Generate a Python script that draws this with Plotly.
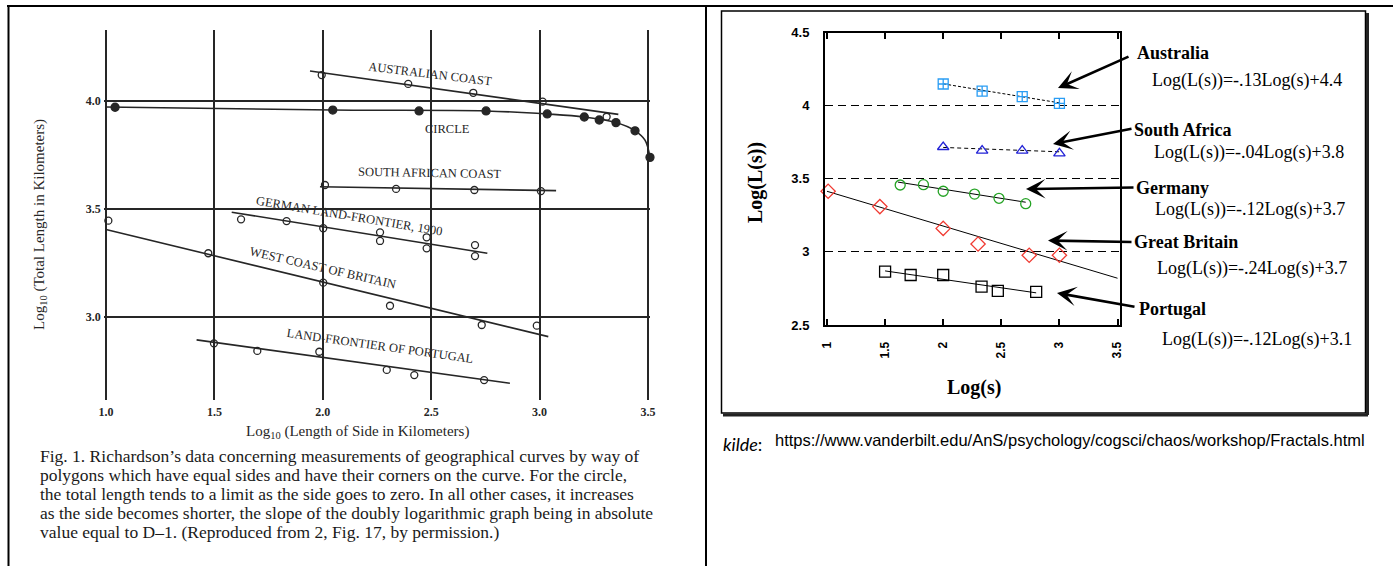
import plotly.graph_objects as go

W, H = 1393, 566


def fx(p):
    return p / W


def fy(p):
    return 1 - p / H


# ================= LEFT PANEL: Richardson's data (scanned figure) =================
rich_xticks = [1.0, 1.5, 2.0, 2.5, 3.0, 3.5]
rich_xtick_text = ["1.0", "1.5", "2.0", "2.5", "3.0", "3.5"]
rich_yticks = [3.0, 3.5, 4.0]
rich_ytick_text = ["3.0", "3.5", "4.0"]

aus_x = [1.995, 2.394, 2.694, 3.014, 3.309]
aus_y = [4.120, 4.079, 4.038, 3.997, 3.927]
aus_fit_x = [1.941, 3.363]
aus_fit_y = [4.139, 3.938]

circle_x = [1.042, 2.046, 2.444, 2.753, 3.035, 3.206, 3.275, 3.352, 3.440, 3.509]
circle_y = [3.971, 3.958, 3.954, 3.954, 3.940, 3.926, 3.912, 3.900, 3.862, 3.739]
circle_curve_x = [1.0, 2.046, 2.753, 3.035, 3.206, 3.352, 3.440, 3.486, 3.509]
circle_curve_y = [3.972, 3.958, 3.954, 3.940, 3.926, 3.900, 3.862, 3.819, 3.739]

sa_x = [2.010, 2.338, 2.699, 3.006]
sa_y = [3.611, 3.593, 3.588, 3.583]
sa_fit_x = [1.987, 3.076]
sa_fit_y = [3.603, 3.585]

ger_x = [1.623, 1.833, 2.002, 2.264, 2.264, 2.479, 2.479, 2.702, 2.702]
ger_y = [3.452, 3.444, 3.411, 3.392, 3.352, 3.369, 3.318, 3.333, 3.282]
ger_fit_x = [1.580, 2.759]
ger_fit_y = [3.485, 3.295]

brit_x = [1.011, 1.472, 2.002, 2.310, 2.733, 2.987]
brit_y = [3.446, 3.295, 3.159, 3.052, 2.963, 2.960]
brit_fit_x = [1.0, 3.040]
brit_fit_y = [3.405, 2.909]

por_x = [1.498, 1.698, 1.984, 2.295, 2.422, 2.744]
por_y = [2.878, 2.843, 2.839, 2.755, 2.731, 2.708]
por_fit_x = [1.418, 2.863]
por_fit_y = [2.894, 2.693]

rich_labels = ["AUSTRALIAN COAST", "CIRCLE", "SOUTH AFRICAN COAST",
               "GERMAN LAND-FRONTIER, 1900", "WEST COAST OF BRITAIN",
               "LAND-FRONTIER OF PORTUGAL"]
rich_label_x = [2.494, 2.577, 2.490, 2.121, 2.001, 2.264]
rich_label_y = [4.125, 3.870, 3.667, 3.468, 3.227, 2.866]
rich_label_angle = [7, 0, 1, 9.5, 13, 8]

caption_lines = [
    "Fig. 1. Richardson\u2019s data concerning measurements of geographical curves by way of",
    "polygons which have equal sides and have their corners on the curve. For the circle,",
    "the total length tends to a limit as the side goes to zero. In all other cases, it increases",
    "as the side becomes shorter, the slope of the doubly logarithmic graph being in absolute",
    "value equal to D\u20131. (Reproduced from 2, Fig. 17, by permission.)",
]

# ================= RIGHT PANEL: Vanderbilt plot =================
v_xticks = [1, 1.5, 2, 2.5, 3, 3.5]
v_xtick_text = ["1", "1.5", "2", "2.5", "3", "3.5"]
v_yticks = [2.5, 3, 3.5, 4, 4.5]
v_ytick_text = ["2.5", "3", "3.5", "4", "4.5"]

au2_x = [2.0, 2.335, 2.68, 3.0]
au2_y = [4.149, 4.100, 4.062, 4.017]
au2_fit_x = [2.0, 3.0]
au2_fit_y = [4.150, 4.020]

sa2_x = [2.0, 2.335, 2.68, 3.0]
sa2_y = [3.718, 3.693, 3.693, 3.674]
sa2_fit_x = [2.0, 3.0]
sa2_fit_y = [3.715, 3.685]

de2_x = [1.63, 1.83, 2.0, 2.27, 2.48, 2.71]
de2_y = [3.458, 3.460, 3.415, 3.396, 3.367, 3.330]
de2_fit_x = [1.61, 2.71]
de2_fit_y = [3.478, 3.340]

gb2_x = [1.01, 1.455, 2.0, 2.30, 2.74, 3.0]
gb2_y = [3.415, 3.310, 3.161, 3.054, 2.977, 2.977]
gb2_fit_x = [1.0, 3.5]
gb2_fit_y = [3.415, 2.820]

pt2_x = [1.5, 1.72, 2.0, 2.33, 2.47, 2.8]
pt2_y = [2.865, 2.842, 2.842, 2.762, 2.733, 2.726]
pt2_fit_x = [1.5, 2.8]
pt2_fit_y = [2.870, 2.720]

v_names = ["Australia", "South Africa", "Germany", "Great Britain", "Portugal"]
v_equations = ["Log(L(s))=-.13Log(s)+4.4", "Log(L(s))=-.04Log(s)+3.8",
               "Log(L(s))=-.12Log(s)+3.7", "Log(L(s))=-.24Log(s)+3.7",
               "Log(L(s))=-.12Log(s)+3.1"]

source_label = "kilde"
source_url = "https://www.vanderbilt.edu/AnS/psychology/cogsci/chaos/workshop/Fractals.html"

# ================= figure =================
fig = go.Figure()

SCAN = "#262626"
SERIF = "Liberation Serif, Times New Roman, serif"
SANS = "Liberation Sans, Arial, sans-serif"


def rich_line(x, y, shape="linear"):
    fig.add_trace(go.Scatter(x=x, y=y, mode="lines", xaxis="x", yaxis="y",
                             line=dict(color=SCAN, width=1.6, shape=shape),
                             hoverinfo="skip", showlegend=False))


def rich_pts(x, y, filled=False):
    fig.add_trace(go.Scatter(
        x=x, y=y, mode="markers", xaxis="x", yaxis="y", showlegend=False,
        cliponaxis=False,
        marker=dict(symbol="circle" if filled else "circle-open",
                    size=8 if filled else 7, color=SCAN,
                    line=dict(color=SCAN, width=1.3))))


rich_line(aus_fit_x, aus_fit_y)
rich_pts(aus_x, aus_y)
rich_line(circle_curve_x, circle_curve_y, shape="spline")
rich_pts(circle_x, circle_y, filled=True)
rich_line(sa_fit_x, sa_fit_y)
rich_pts(sa_x, sa_y)
rich_line(ger_fit_x, ger_fit_y)
rich_pts(ger_x, ger_y)
rich_line(brit_fit_x, brit_fit_y)
rich_pts(brit_x, brit_y)
rich_line(por_fit_x, por_fit_y)
rich_pts(por_x, por_y)


def v_series(x, y, fx_, fy_, symbol, color, dash, size=10):
    fig.add_trace(go.Scatter(x=fx_, y=fy_, mode="lines", xaxis="x2", yaxis="y2",
                             line=dict(color="black", width=1, dash=dash),
                             hoverinfo="skip", showlegend=False))
    fig.add_trace(go.Scatter(x=x, y=y, mode="markers", xaxis="x2", yaxis="y2",
                             showlegend=False, cliponaxis=False,
                             marker=dict(symbol=symbol, size=size, color=color,
                                         line=dict(color=color, width=1.3))))


v_series(au2_x, au2_y, au2_fit_x, au2_fit_y, "square-cross-open", "#2a9df4", "3px,2px")
v_series(sa2_x, sa2_y, sa2_fit_x, sa2_fit_y, "triangle-up-open", "#2222d6", "4px,3px")
v_series(de2_x, de2_y, de2_fit_x, de2_fit_y, "circle-open", "#25a325", "solid")
v_series(gb2_x, gb2_y, gb2_fit_x, gb2_fit_y, "diamond-open", "#f03a32", "solid", size=11)
v_series(pt2_x, pt2_y, pt2_fit_x, pt2_fit_y, "square-open", "black", "solid", size=11)

# ---------- axes ----------
lx0, lx1 = 103.8, 650.2          # left plot x pixels for range [0.99, 3.51]
ly0, ly1 = 30, 400               # left plot y pixels (top, bottom)
rx0, rx1 = 825, 1119.5
ry0, ry1 = 32.7, 325

fig.update_layout(
    template="none",
    width=W, height=H, margin=dict(l=0, r=0, t=0, b=0, pad=0, autoexpand=False),
    paper_bgcolor="white", plot_bgcolor="white",
    showlegend=False,
    xaxis=dict(domain=[fx(lx0), fx(lx1)], range=[0.99, 3.51], automargin=False,
               tickvals=rich_xticks, ticktext=rich_xtick_text,
               showgrid=True, gridcolor=SCAN, gridwidth=1.6,
               zeroline=False, showline=False, ticks="",
               ticklabelstandoff=3,
               tickfont=dict(family=SERIF, size=12, color=SCAN, weight="bold"),
               anchor="y", fixedrange=True),
    yaxis=dict(domain=[fy(ly1), fy(ly0)], range=[2.6157, 4.3287], automargin=False,
               tickvals=rich_yticks, ticktext=rich_ytick_text,
               showgrid=True, gridcolor=SCAN, gridwidth=1.6,
               zeroline=False, showline=False, ticks="",
               ticklabelstandoff=2,
               tickfont=dict(family=SERIF, size=12, color=SCAN, weight="bold"),
               anchor="x", fixedrange=True),
    xaxis2=dict(domain=[fx(rx0), fx(rx1)], range=[0.983, 3.517], automargin=False,
                tickvals=v_xticks, ticktext=v_xtick_text, tickangle=-90,
                showgrid=False, zeroline=False,
                showline=True, linecolor="black", linewidth=2, mirror="ticks",
                ticks="inside", ticklen=6, tickwidth=1.5, tickcolor="black",
                ticklabelstandoff=10,
                tickfont=dict(family=SANS, size=12, color="black", weight="bold"),
                anchor="y2", fixedrange=True),
    yaxis2=dict(domain=[fy(ry1), fy(ry0)], range=[2.5, 4.5], automargin=False,
                tickvals=v_yticks, ticktext=v_ytick_text,
                showgrid=True, gridcolor="black", gridwidth=1.3, griddash="8px,5px",
                zeroline=False,
                showline=True, linecolor="black", linewidth=2, mirror=True,
                ticks="", ticklabelstandoff=11,
                tickfont=dict(family=SANS, size=13, color="black", weight="bold"),
                anchor="x2", fixedrange=True),
)

ann = []
# left panel in-plot labels
for t, x, y, a in zip(rich_labels, rich_label_x, rich_label_y, rich_label_angle):
    ann.append(dict(text=t, x=x, y=y, xref="x", yref="y", showarrow=False,
                    textangle=a, xanchor="center", yanchor="middle",
                    font=dict(family=SERIF, size=12.5, color=SCAN)))
# left panel axis titles
ann.append(dict(text="Log<sub>10</sub> (Total Length in Kilometers)", x=fx(40), y=fy(225),
                xref="paper", yref="paper", showarrow=False, textangle=-90,
                xanchor="center", yanchor="middle",
                font=dict(family=SERIF, size=15, color=SCAN)))
ann.append(dict(text="Log<sub>10</sub> (Length of Side in Kilometers)", x=fx(357), y=fy(432),
                xref="paper", yref="paper", showarrow=False,
                xanchor="center", yanchor="middle",
                font=dict(family=SERIF, size=15, color=SCAN)))
# caption, one line per annotation (19 px line pitch as in the scan)
for i, line in enumerate(caption_lines):
    ann.append(dict(text=line, x=fx(38), y=fy(456 + 19 * i),
                    xref="paper", yref="paper", showarrow=False, align="left",
                    xanchor="left", yanchor="middle",
                    font=dict(family=SERIF, size=17.5, color="#1a1a1a")))

# right panel axis titles
ann.append(dict(text="<b>Log(L(s))</b>", x=fx(755), y=fy(183), xref="paper", yref="paper",
                showarrow=False, textangle=-90, xanchor="center", yanchor="middle",
                font=dict(family=SERIF, size=20, color="black")))
ann.append(dict(text="<b>Log(s)</b>", x=fx(974), y=fy(387), xref="paper", yref="paper",
                showarrow=False, xanchor="center", yanchor="middle",
                font=dict(family=SERIF, size=20, color="black")))

# right panel labels, equations and arrows (pixel layout positions)
name_pos = [(1135, 53), (1132, 130), (1134, 188), (1132, 242), (1137, 309)]
eq_pos = [(1150, 80), (1152, 152), (1153, 210), (1155, 268), (1160, 339)]
arrow_tip = [(1058, 88), (1053, 144), (1026, 189), (1048, 240.5), (1057, 293)]
arrow_tail = [(1130, 56), (1133, 128.5), (1135, 187.5), (1133, 242), (1136, 307)]
for nm, eq, (nx, ny), (ex, ey), (tx, ty), (sx, sy) in zip(
        v_names, v_equations, name_pos, eq_pos, arrow_tip, arrow_tail):
    ann.append(dict(text="<b>%s</b>" % nm, x=fx(nx), y=fy(ny), xref="paper", yref="paper",
                    showarrow=False, xanchor="left", yanchor="middle",
                    font=dict(family=SERIF, size=18, color="black")))
    ann.append(dict(text=eq, x=fx(ex), y=fy(ey), xref="paper", yref="paper",
                    showarrow=False, xanchor="left", yanchor="middle",
                    font=dict(family=SERIF, size=18, color="black")))
    ann.append(dict(text="", x=fx(tx), y=fy(ty), xref="paper", yref="paper",
                    showarrow=True, ax=sx - tx, ay=sy - ty, axref="pixel", ayref="pixel",
                    arrowhead=3, arrowsize=1.25, arrowwidth=2.6, arrowcolor="black",
                    standoff=0, startstandoff=0))

# source line
ann.append(dict(text="<i>%s</i>:" % source_label, x=fx(721), y=fy(444), xref="paper", yref="paper",
                showarrow=False, xanchor="left", yanchor="middle",
                font=dict(family="Lato, Open Sans, sans-serif", size=18, color="black")))
ann.append(dict(text=source_url, x=fx(773), y=fy(440), xref="paper", yref="paper",
                showarrow=False, xanchor="left", yanchor="middle",
                font=dict(family=SANS, size=16.5, color="black")))
fig.update_layout(annotations=ann)

# table borders and picture frame
shapes = [
    dict(type="line", xref="paper", yref="paper", x0=fx(7), x1=1, y0=fy(6), y1=fy(6),
         line=dict(color="black", width=2)),
    dict(type="line", xref="paper", yref="paper", x0=fx(8.5), x1=fx(8.5), y0=fy(6), y1=0,
         line=dict(color="black", width=2)),
    dict(type="line", xref="paper", yref="paper", x0=fx(706), x1=fx(706), y0=fy(6), y1=0,
         line=dict(color="black", width=2)),
    dict(type="rect", xref="paper", yref="paper", x0=fx(721.5), x1=fx(1365.5), y0=fy(413), y1=fy(11),
         line=dict(color="black", width=1.5)),
    dict(type="line", xref="paper", yref="paper", x0=fx(723), x1=fx(1368), y0=fy(415), y1=fy(415),
         line=dict(color="#222", width=3)),
    dict(type="line", xref="paper", yref="paper", x0=fx(1367.5), x1=fx(1367.5), y0=fy(13), y1=fy(415),
         line=dict(color="#222", width=3)),
]
fig.update_layout(shapes=shapes)

fig.write_html("out.html", config={"displayModeBar": False},
               post_script="document.body.style.margin='0';document.body.style.overflow='hidden';")
